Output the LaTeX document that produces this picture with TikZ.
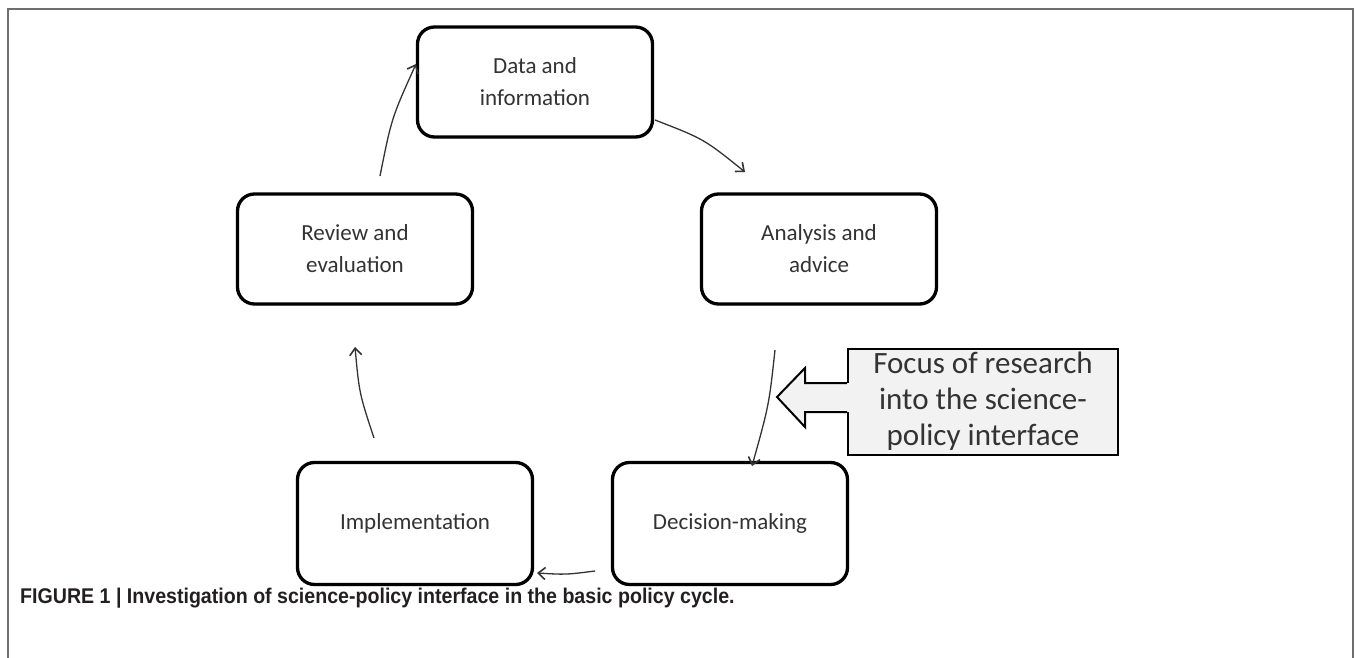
\documentclass[tikz,border=0pt]{standalone}
\usepackage{fontspec}
\setmainfont{Carlito}
\newfontfamily\capfont{Liberation Sans}[FakeStretch=0.92]
\usetikzlibrary{arrows.meta,shadows,calc}
\definecolor{txt}{HTML}{333333}
\definecolor{framegray}{HTML}{6E6E6E}
\definecolor{calloutfill}{HTML}{F2F2F2}
\definecolor{captxt}{HTML}{231F20}
\begin{document}
\begin{tikzpicture}[x=1pt,y=-1pt,
  cbox/.style={draw=black, line width=3.3pt, rounded corners=17pt,
    minimum width=235pt, minimum height=110pt, align=center,
    font=\fontsize{23}{32}\selectfont, text=txt, fill=white,
    drop shadow={shadow xshift=1pt, shadow yshift=-1.5pt, opacity=0.3}},
  tallbox/.style={cbox, minimum height=122pt},
  flow/.style={-{Straight Barb[length=7pt,width=12pt,line width=1.6pt]},
    line width=1.3pt, draw=black!80},
  focusbox/.style={draw=black, line width=2pt, fill=calloutfill,
    minimum width=270pt, minimum height=106pt},
  focustextstyle/.style={align=center, font=\fontsize{31}{36}\selectfont, text=txt},
  captionstyle/.style={anchor=west, inner sep=0pt, text=captxt,
    font=\capfont\bfseries\fontsize{21.3}{25}\selectfont}]
\useasboundingbox (0,0) rectangle (1357,658);
% frame
\draw[framegray, line width=2pt] (8,658) -- (8,9) -- (1353,9) -- (1353,658);

% boxes
\node[cbox] (data) at (535,82) {Data and\\information};
\node[cbox] (analysis) at (819,249) {Analysis and\\advice};
\node[tallbox] (decision) at (730,523.5) {Decision-making};
\node[tallbox] (impl) at (415,523.5) {Implementation};
\node[cbox] (review) at (355,249) {Review and\\evaluation};

% arrow end points and control points
\coordinate (a1s) at (380,176); \coordinate (a1c) at (391.6,118); \coordinate (a1e) at (416,64);
\coordinate (a2s) at (655,120); \coordinate (a2c) at (704,139); \coordinate (a2e) at (745,172);
\coordinate (a3s) at (775,350); \coordinate (a3c) at (769,405); \coordinate (a3e) at (752,466);
\coordinate (a4s) at (595,571); \coordinate (a4c) at (566,574.7); \coordinate (a4e) at (537,573);
\coordinate (a5s) at (374,438); \coordinate (a5c) at (359.3,393.6); \coordinate (a5e) at (355,347);

\draw[flow] (a1s) .. controls (a1c) .. (a1e);
\draw[flow] (a2s) .. controls (a2c) .. (a2e);
\draw[flow] (a3s) .. controls (a3c) .. (a3e);
\draw[flow] (a4s) .. controls (a4c) .. (a4e);
\draw[flow] (a5s) .. controls (a5c) .. (a5e);

% callout
\node[focusbox] (focus) at (983,402) {};
\coordinate (arrowtip) at (777,397);
\fill[calloutfill] ([xshift=2pt]focus.west |- 0,383) -- (805,383) -- (805,368)
  -- (arrowtip) -- (805,427) -- (805,412) -- ([xshift=2pt]focus.west |- 0,412) -- cycle;
\draw[line width=2pt, line join=miter] (focus.west |- 0,383) -- (805,383) -- (805,368)
  -- (arrowtip) -- (805,427) -- (805,412) -- (focus.west |- 0,412);
\node[focustextstyle] (focustext) at ([yshift=1pt]focus.center)
  {Focus of research\\into the science-\\policy interface};

% caption
\node[captionstyle] (caption) at (20,598)
  {FIGURE 1 | Investigation of science-policy interface in the basic policy cycle.};
\end{tikzpicture}
\end{document}
